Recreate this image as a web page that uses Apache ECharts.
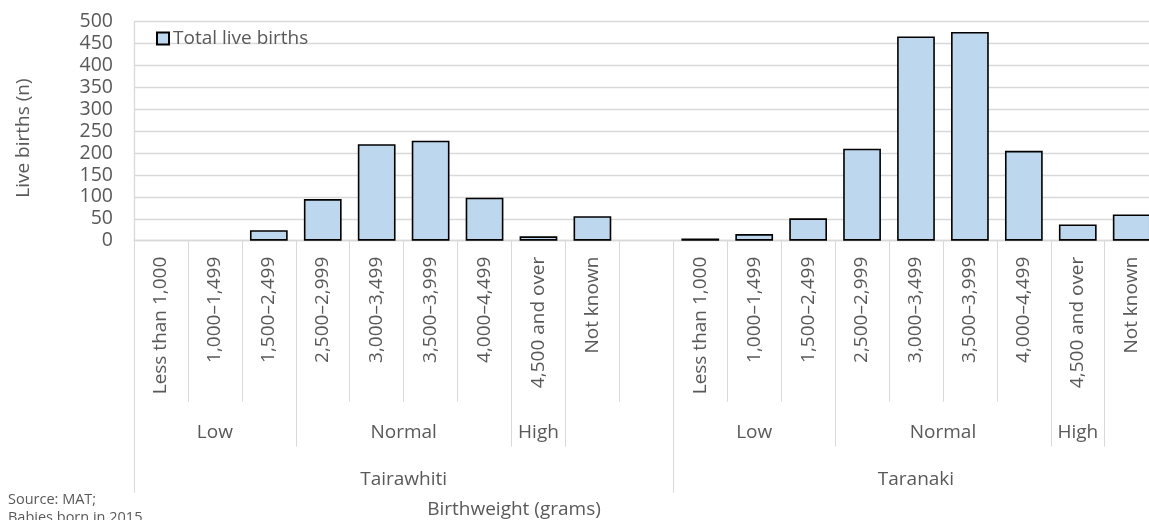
<!DOCTYPE html>
<html><head><meta charset="utf-8">
<script src="https://cdn.jsdelivr.net/npm/echarts@6/dist/echarts.min.js"></script>
<style>html,body{margin:0;padding:0;background:#fff}#c{width:1149px;height:520px}</style>
</head><body><div id="c"></div>
<script>
const birthweightBands = ['Less than 1,000','1,000–1,499','1,500–2,499','2,500–2,999','3,000–3,499','3,500–3,999','4,000–4,499','4,500 and over','Not known'];
const bandClasses = ['Low','Low','Low','Normal','Normal','Normal','Normal','High',''];
const regions = ['Tairawhiti','Taranaki'];
const tairawhitiBirths = [0,0,24,95,220,228,98,10,56];
const taranakiBirths = [5,15,51,210,466,476,205,37,60];
const seriesName = 'Total live births';
const yAxisName = 'Live births (n)';
const xAxisName = 'Birthweight (grams)';
const sourceNote = 'Source: MAT;\nBabies born in 2015';

const FONT = '"Open Sans", sans-serif';
const TXT = '#595959', GRID = '#D9D9D9';

// slots: each region's bands, with a blank spacer closing the first region
const regionValues = [tairawhitiBirths, taranakiBirths];
const categories = [], values = [], classes = [], regionRuns = [];
regions.forEach((r, ri) => {
  const start = categories.length;
  birthweightBands.forEach((b, bi) => {
    categories.push(b); values.push(regionValues[ri][bi]); classes.push(bandClasses[bi]);
  });
  if (ri < regions.length - 1) { categories.push(''); values.push(null); classes.push(''); }
  regionRuns.push({ name: r, start, end: categories.length });
});
const N = categories.length;

// class runs inside each region
const classRuns = [];
regionRuns.forEach(rr => {
  let s = rr.start;
  for (let i = rr.start + 1; i <= rr.end; i++) {
    if (i === rr.end || classes[i] !== classes[s]) { classRuns.push({ name: classes[s], start: s, end: i }); s = i; }
  }
});
const classTicks = classRuns.map(r => r.start).concat([N]);
const classLabelPos = classRuns.filter(r => r.name).map(r => (r.start + r.end) / 2);
const classLabelMap = {}; classRuns.filter(r => r.name).forEach(r => classLabelMap[(r.start + r.end) / 2] = r.name);
const regionTicks = regionRuns.map(r => r.start).concat([N]);
const regionLabelPos = regionRuns.map(r => (r.start + r.end) / 2);
const regionLabelMap = {}; regionRuns.forEach(r => regionLabelMap[(r.start + r.end) / 2] = r.name);

const SLOT = 53.93;
const chart = echarts.init(document.getElementById('c'), null, { renderer: 'canvas' });
const levelAxis = (ticks, tickLen, labelPos, labelMap, margin) => ({
  type: 'value', gridIndex: 0, position: 'bottom', min: 0, max: N,
  axisLine: { show: false, onZero: false }, splitLine: { show: false },
  axisTick: { show: true, customValues: ticks, length: tickLen, lineStyle: { color: GRID, width: 1 } },
  axisLabel: { show: true, customValues: labelPos, margin: margin, fontFamily: FONT, fontSize: 19, color: TXT,
    formatter: v => labelMap[v] || '' }
});

chart.setOption({
  animation: false,
  textStyle: { fontFamily: FONT },
  grid: { left: 134, top: 21.5, width: SLOT * N, height: 219.2, containLabel: false, outerBoundsMode: 'none' },
  legend: {
    left: 151, top: 24, itemWidth: 12, itemHeight: 12, icon: 'rect',
    textStyle: { fontFamily: FONT, fontSize: 19, color: TXT, padding: [0, 0, 0, -1] },
    data: [seriesName]
  },
  xAxis: [
    {
      type: 'category', data: categories, position: 'bottom',
      axisLine: { show: true, onZero: false, lineStyle: { color: GRID, width: 1.3 } },
      axisTick: { show: true, interval: 0, length: 161, lineStyle: { color: GRID, width: 1 } },
      axisLabel: { interval: 0, rotate: 90, margin: 16, fontFamily: FONT, fontSize: 19, color: TXT }
    },
    levelAxis(classTicks, 206, classLabelPos, classLabelMap, 182),
    levelAxis(regionTicks, 252, regionLabelPos, regionLabelMap, 229)
  ],
  yAxis: {
    type: 'value', min: 0, max: 500, interval: 50,
    name: yAxisName, nameLocation: 'middle', nameRotate: 90, nameGap: 101,
    nameTextStyle: { fontFamily: FONT, fontSize: 19, color: TXT, padding: [0, 14, 0, 0] },
    axisLine: { show: true, onZero: false, lineStyle: { color: GRID, width: 1.3 } },
    axisTick: { show: false },
    axisLabel: { margin: 21, fontFamily: FONT, fontSize: 19.5, color: TXT },
    splitLine: { show: true, lineStyle: { color: GRID, width: 1.3 } }
  },
  series: [{
    name: seriesName, type: 'bar', xAxisIndex: 0, yAxisIndex: 0, barWidth: '70%',
    itemStyle: { color: '#BDD7EE', borderColor: '#000000', borderWidth: 1.6 },
    data: values.map(v => v === 0 ? { value: v, itemStyle: { borderWidth: 0 } } : v)
  }],
  graphic: [
    { type: 'text', x: 514, y: 510, style: { text: xAxisName, textAlign: 'center', textVerticalAlign: 'middle',
      font: '19px "Open Sans", sans-serif', fill: TXT } },
    { type: 'text', x: 8, y: 491, style: { text: sourceNote, textAlign: 'left', textVerticalAlign: 'top',
      font: '14.5px "Open Sans", sans-serif', lineHeight: 18, fill: TXT } }
  ]
});
</script></body></html>
